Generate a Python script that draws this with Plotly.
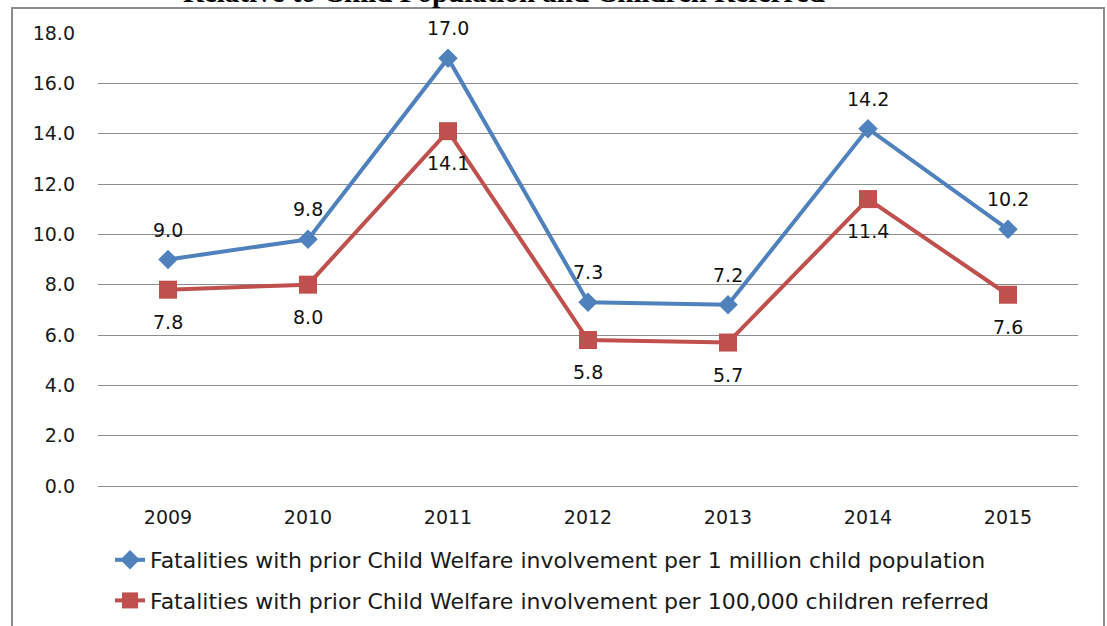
import plotly.graph_objects as go

years = ["2009", "2010", "2011", "2012", "2013", "2014", "2015"]
per_million = [9.0, 9.8, 17.0, 7.3, 7.2, 14.2, 10.2]
per_100k = [7.8, 8.0, 14.1, 5.8, 5.7, 11.4, 7.6]
name_million = "Fatalities with prior Child Welfare involvement per 1 million child population"
name_100k = "Fatalities with prior Child Welfare involvement per 100,000 children referred"
title_text = "Relative to Child Population and Children Referred"
y_ticks = [0, 2, 4, 6, 8, 10, 12, 14, 16, 18]

BLUE = "#4F81BD"
RED = "#C0504D"
FONT = "DejaVu Sans"

W, H = 1107, 626
L, R, T, B = 98, 29, 33, 140
pw, ph = W - L - R, H - T - B

def px_x(px):
    return (px - L) / pw

def px_y(py):
    return (H - B - py) / ph

fig = go.Figure()
fig.add_trace(go.Scatter(
    x=years, y=per_million, mode="lines+markers", name=name_million,
    line=dict(color=BLUE, width=4),
    marker=dict(symbol="diamond", size=15, color=BLUE),
    legendgroup="a",
))
fig.add_trace(go.Scatter(
    x=years, y=per_100k, mode="lines+markers", name=name_100k,
    line=dict(color=RED, width=4),
    marker=dict(symbol="square", size=18, color=RED),
    legendgroup="b",
))

annotations = []
for i, v in enumerate(per_million):
    annotations.append(dict(x=i, y=v, xref="x", yref="y", text=f"{v:.1f}",
                            showarrow=False, yshift=30,
                            font=dict(family=FONT, size=19, color="#111111")))
for i, v in enumerate(per_100k):
    annotations.append(dict(x=i, y=v, xref="x", yref="y", text=f"{v:.1f}",
                            showarrow=False, yshift=-32,
                            font=dict(family=FONT, size=19, color="#111111")))
annotations.append(dict(x=px_x(504), y=px_y(-8), xref="paper", yref="paper",
                        text=f"<b>{title_text}</b>", showarrow=False,
                        xanchor="center", yanchor="middle",
                        font=dict(family="Liberation Serif", size=29, color="#000")))

fig.update_layout(
    width=W, height=H,
    margin=dict(l=L, r=R, t=T, b=B, pad=0, autoexpand=False),
    paper_bgcolor="white", plot_bgcolor="white",
    showlegend=True,
    legend=dict(x=px_x(110), y=px_y(539), xanchor="left", yanchor="top",
                font=dict(family=FONT, size=22, color="#1a1a1a"),
                tracegroupgap=9, itemwidth=30, bgcolor="rgba(0,0,0,0)"),
    annotations=annotations,
    shapes=[dict(type="rect", xref="paper", yref="paper",
                 x0=px_x(12), x1=px_x(1104), y0=px_y(640), y1=px_y(8),
                 line=dict(color="#8c8c8c", width=2), fillcolor="rgba(0,0,0,0)",
                 layer="below")],
)
fig.update_xaxes(type="category", range=[-0.5, 6.5], showgrid=False,
                 showline=False, zeroline=False,
                 tickfont=dict(family=FONT, size=19, color="#1a1a1a"),
                 ticks="", ticklabelstandoff=18)
fig.update_yaxes(range=[0, 18], tickvals=y_ticks, ticktext=[f"{t:.1f}" for t in y_ticks],
                 showgrid=True, gridcolor="#8c8c8c", gridwidth=1,
                 zeroline=True, zerolinecolor="#8c8c8c", zerolinewidth=1,
                 showline=False,
                 tickfont=dict(family=FONT, size=19, color="#1a1a1a"),
                 ticks="", ticklabelstandoff=22)

fig.write_html("out.html", config={"displayModeBar": False},
               post_script="document.body.style.margin='0';document.body.style.overflow='hidden';")
